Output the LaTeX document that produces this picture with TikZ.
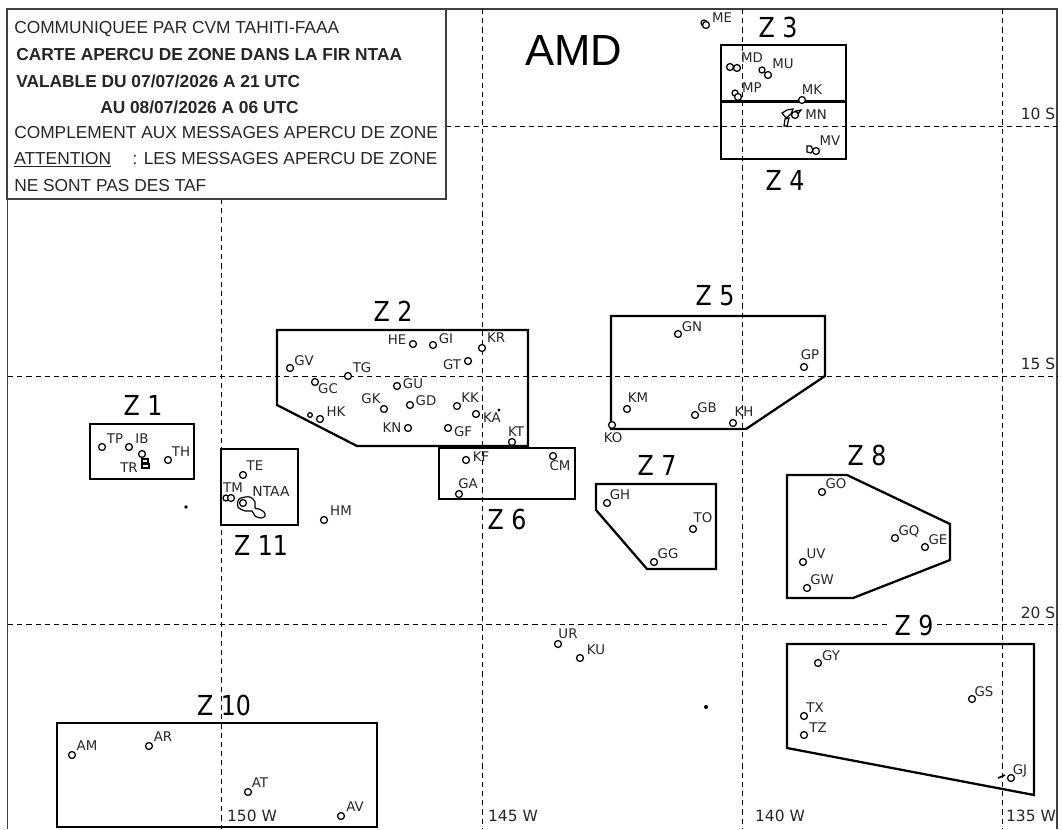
\documentclass[tikz,border=0pt]{standalone}
\usepackage{fontspec}
\setmainfont{DejaVu Sans}
\newfontfamily\legfont{Liberation Sans}
\newfontfamily\bigfont{Liberation Sans}
\tikzset{
  grid line/.style={line width=0.65pt,dash pattern=on 3.9pt off 3pt},
  frame line/.style={line width=0.85pt,black!75},
  zone/.style={line width=1.7pt,line join=miter},
  stnc/.style={circle,draw,fill=white,line width=0.95pt,minimum size=5.2pt,inner sep=0pt},
  lab/.style={inner sep=0pt,font=\fontsize{10pt}{11pt}\selectfont,text=black!85},
  zlab/.style={inner sep=0pt,font=\fontsize{17.8pt}{20pt}\selectfont},
  tick/.style={inner sep=0pt,font=\fontsize{11.6pt}{13pt}\selectfont,text=black!85},
  leg/.style={inner sep=0pt,anchor=base west,font=\legfont\fontsize{13pt}{15pt}\selectfont,text=black!85},
  legb/.style={inner sep=0pt,anchor=base west,font=\legfont\bfseries\fontsize{13pt}{15pt}\selectfont,text=black!85},
  islet/.style={draw,line width=0.9pt,fill=white},
  speck/.style={fill=black,circle,inner sep=0pt,minimum size=2.4pt}
}
\newcommand\stn[6]{\node[stnc] (c#1) at (#2,#3) {}; \node[lab] (l#1) at (#5,#6) {#4};}
\newcommand\zt[1]{\scalebox{1}[1.16]{#1}}
\begin{document}
\begin{tikzpicture}[x=0.75pt,y=-0.75pt]
\useasboundingbox (0,0) rectangle (1062,829);
% frame
\draw[frame line] (7.5,829) -- (7.5,9) -- (1057,9) -- (1057,829);
% grid
\draw[grid line] (8,376) -- (1057,376);
\draw[grid line] (446,126) -- (1057,126);
\draw[grid line] (8,624) -- (1057,624);
\draw[grid line] (221,199) -- (221,829);
\draw[grid line] (482,9) -- (482,829);
\draw[grid line] (742,9) -- (742,829);
\draw[grid line] (1002,9) -- (1002,829);
% legend
\node[draw,frame line,fill=white,minimum width=439*0.75pt,minimum height=190*0.75pt,inner sep=0pt] (legend) at (226.5,104) {};
\node[leg] (l1) at (14,33) {COMMUNIQUEE PAR CVM TAHITI-FAAA};
\node[legb] (l2) at (16,60) {CARTE APERCU DE ZONE DANS LA FIR NTAA};
\node[legb] (l3) at (16,87) {VALABLE DU 07/07/2026 A 21 UTC};
\node[legb] (l4) at (100,113) {AU 08/07/2026 A 06 UTC};
\node[leg] (l5) at (14,138) {COMPLEMENT AUX MESSAGES APERCU DE ZONE};
\node[leg] (l6) at (14,164) {\underline{ATTENTION}\hspace{16pt}: LES MESSAGES APERCU DE ZONE};
\node[leg] (l7) at (14,191) {NE SONT PAS DES TAF};
\node[inner sep=0pt,font=\bigfont\fontsize{32.7pt}{36pt}\selectfont] (amd) at (574,50) {AMD};
% zones
\draw[zone] (90,424) rectangle (194,479);
\draw[zone] (221,449) rectangle (298,525);
\draw[zone] (277,330) -- (528,330) -- (528,446) -- (357,446) -- (277,405) -- cycle;
\draw[zone] (439,448) rectangle (575,499);
\draw[zone] (721,45) rectangle (846,101);
\draw[zone] (721,102) rectangle (846,159);
\draw[zone] (611,316) -- (825,316) -- (825,376) -- (746,429) -- (611,429) -- cycle;
\draw[zone] (596,484) -- (716,484) -- (716,569) -- (647,569) -- (596,510) -- cycle;
\draw[zone] (787,475) -- (847,475) -- (950,524) -- (950,560) -- (853,598) -- (787,598) -- cycle;
\draw[zone] (787,644) -- (1034,644) -- (1034,795) -- (787,748) -- cycle;
\draw[zone] (57,723) rectangle (377,827);
% zone labels
\node[zlab] (z1) at (143,405) {\zt{Z 1}};
\node[zlab] (z2) at (393,311) {\zt{Z 2}};
\node[zlab] (z3) at (778,27) {\zt{Z 3}};
\node[zlab] (z4) at (785,180) {\zt{Z 4}};
\node[zlab] (z5) at (715,296) {\zt{Z 5}};
\node[zlab] (z6) at (507,519) {\zt{Z 6}};
\node[zlab] (z7) at (657,465) {\zt{Z 7}};
\node[zlab] (z8) at (867,455) {\zt{Z 8}};
\node[zlab,fill=white,inner xsep=3pt] (z9) at (914,625) {\zt{Z 9}};
\node[zlab] (z10) at (224,705) {\zt{Z 10}};
\node[zlab] (z11) at (261,545) {\zt{Z 11}};
% ticks
\node[tick] (t10) at (1038,114) {10 S};
\node[tick] (t15) at (1038,364) {15 S};
\node[tick] (t20) at (1038,613) {20 S};
\node[tick] (t150) at (252,816) {150 W};
\node[tick] (t145) at (513,816) {145 W};
\node[tick] (t140) at (780,816) {140 W};
\node[tick] (t135) at (1031,816) {135 W};
% stations
\node[stnc,minimum size=4.5pt] (me2) at (704,23) {};
\stn{ME}{706}{25}{ME}{722}{18}
\node[stnc] (md2) at (730,67) {};
\stn{MD}{737}{68}{MD}{752}{58}
\node[stnc,minimum size=4.5pt] (mu2) at (762,70) {};
\stn{MU}{768}{75}{MU}{783}{64}
\node[stnc,minimum size=4.5pt] (mp2) at (735,93) {};
\stn{MP}{738}{97}{MP}{752}{88}
\stn{MK}{802}{100}{MK}{812}{90}
\draw[islet] (782,113) -- (787,110) -- (793,109) -- (791,114) -- (786,118) -- cycle;
\draw[islet] (785,119) -- (789,118) -- (787,126) -- (784,126) -- cycle;
\draw[islet] (796,111) -- (801,110) -- (798,114) -- cycle;
\stn{MN}{795}{115}{MN}{816}{115}
\draw[islet] (807,146) -- (811,146) -- (813,150) -- (811,153) -- (807,152) -- cycle;
\stn{MV}{816}{151}{MV}{830}{141}
\stn{HE}{413}{344}{HE}{397}{340}
\stn{GI}{433}{345}{GI}{446}{339}
\stn{KR}{482}{348}{KR}{496}{338}
\stn{GT}{468}{361}{GT}{452}{365}
\stn{GV}{290}{368}{GV}{304}{361}
\stn{TG}{348}{376}{TG}{362}{368}
\stn{GC}{315}{382}{GC}{328}{389}
\stn{GU}{397}{386}{GU}{413}{384}
\stn{GK}{384}{409}{GK}{371}{399}
\stn{GD}{410}{405}{GD}{426}{401}
\stn{KK}{457}{406}{KK}{470}{398}
\stn{KA}{476}{414}{KA}{492}{418}
\node[speck] (ka2) at (499,410) {};
\stn{HK}{320}{419}{HK}{336}{412}
\node[stnc,minimum size=3.5pt] (hk2) at (310,415) {};
\stn{KN}{408}{428}{KN}{392}{428}
\stn{GF}{448}{428}{GF}{463}{432}
\stn{KT}{512}{442}{KT}{516}{432}
\stn{KF}{466}{460}{KF}{481}{457}
\stn{CM}{553}{456}{CM}{560}{466}
\stn{GA}{459}{494}{GA}{468}{484}
\stn{HM}{324}{520}{HM}{341}{511}
\stn{TP}{102}{447}{TP}{115}{439}
\stn{IB}{129}{447}{IB}{142}{439}
\stn{TR}{142}{454}{TR}{129}{468}
\draw[islet] (142,459) rectangle (148,463);
\draw[islet] (142,464) rectangle (149,468);
\stn{TH}{168}{460}{TH}{181}{452}
\stn{TE}{243}{475}{TE}{255}{466}
\node[stnc,minimum size=4.5pt] (tm2) at (226,498) {};
\stn{TM}{231}{498}{TM}{233}{488}
\draw[islet] plot[smooth cycle,tension=0.6] coordinates {(241,498) (250,497) (255,502) (255,508) (259,509) (264,512) (265,516) (261,518) (255,516) (252,511) (245,511) (238,507) (238,501)};
\node[stnc] (ctahiti) at (243,503) {};
\node[lab,font=\fontsize{10.4pt}{12pt}\selectfont] (ntaa) at (271,491) {NTAA};
\node[speck,minimum size=2.8pt] (spk1) at (186,507) {};
\stn{GN}{678}{334}{GN}{692}{327}
\stn{GP}{804}{367}{GP}{810}{355}
\stn{KM}{627}{409}{KM}{638}{398}
\stn{GB}{695}{415}{GB}{707}{408}
\stn{KH}{733}{423}{KH}{744}{412}
\stn{KO}{612}{425}{KO}{613}{438}
\stn{GH}{607}{503}{GH}{620}{495}
\stn{TO}{693}{529}{TO}{703}{518}
\stn{GG}{654}{562}{GG}{668}{554}
\stn{GO}{822}{492}{GO}{836}{484}
\stn{GQ}{895}{538}{GQ}{909}{531}
\stn{GE}{925}{547}{GE}{938}{540}
\stn{UV}{803}{562}{UV}{816}{554}
\stn{GW}{807}{588}{GW}{822}{580}
\stn{UR}{558}{644}{UR}{568}{634}
\stn{KU}{580}{658}{KU}{596}{650}
\stn{GY}{818}{663}{GY}{831}{656}
\stn{GS}{972}{699}{GS}{984}{692}
\stn{TX}{804}{716}{TX}{815}{708}
\stn{TZ}{804}{735}{TZ}{818}{728}
\stn{GJ}{1011}{778}{GJ}{1020}{771}
\draw[line width=1.2pt] (998,778) -- (1005,775);
\node[speck,minimum size=3pt] (spk2) at (706,707) {};
\stn{AM}{72}{755}{AM}{87}{746}
\stn{AR}{149}{746}{AR}{163}{737}
\stn{AT}{248}{792}{AT}{260}{783}
\stn{AV}{341}{816}{AV}{355}{807}
\end{tikzpicture}
\end{document}
